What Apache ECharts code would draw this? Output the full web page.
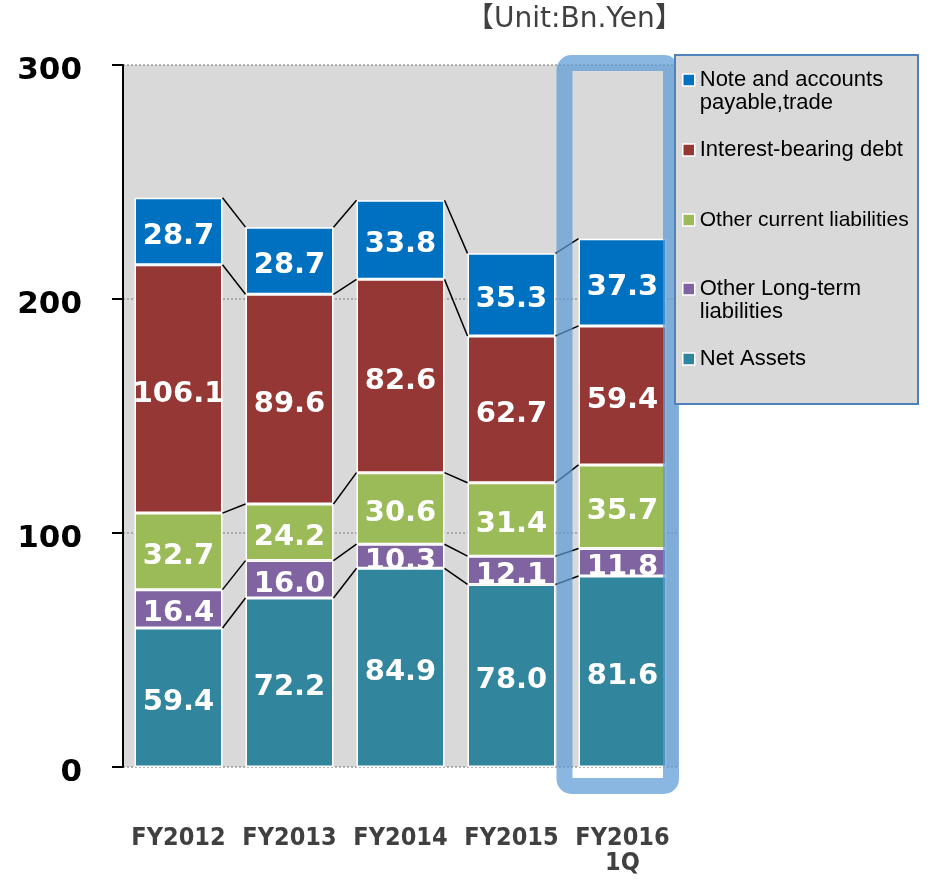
<!DOCTYPE html>
<html>
<head>
<meta charset="utf-8">
<script src="https://cdn.jsdelivr.net/npm/echarts@6/dist/echarts.min.js"></script>
<style>html,body{margin:0;padding:0;background:#fff;}#c{width:932px;height:880px;}</style>
</head>
<body>
<div id="c"></div>
<script>
const categories = ['FY2012', 'FY2013', 'FY2014', 'FY2015', 'FY2016\n1Q'];
const netAssets = [59.4, 72.2, 84.9, 78.0, 81.6];
const otherLongTerm = [16.4, 16.0, 10.3, 12.1, 11.8];
const otherCurrent = [32.7, 24.2, 30.6, 31.4, 35.7];
const interestDebt = [106.1, 89.6, 82.6, 62.7, 59.4];
const notesPayable = [28.7, 28.7, 33.8, 35.3, 37.3];
const seriesNames = ['Net Assets', 'Other Long-term liabilities', 'Other current liabilities', 'Interest-bearing debt', 'Note and accounts payable,trade'];
const seriesColors = ['#31859c', '#8064a2', '#9bbb59', '#953735', '#0070c0'];
const yMin = 0, yMax = 300, yStep = 100;
const unitText = '【Unit:Bn.Yen】';

const stacks = [netAssets, otherLongTerm, otherCurrent, interestDebt, notesPayable];
const BAR_W = 88;

// cumulative tops for connector lines
const connectorData = [];
const cum = categories.map(() => 0);
stacks.forEach(arr => {
  arr.forEach((v, i) => { cum[i] += v; });
  for (let i = 0; i < categories.length - 1; i++) {
    connectorData.push([i, +cum[i].toFixed(1), +cum[i + 1].toFixed(1)]);
  }
});

const boldFont = "'DejaVu Sans', Verdana, sans-serif";
const condFont = "'DejaVu Sans Condensed', 'DejaVu Sans', Verdana, sans-serif";
const barSeries = stacks.map((arr, k) => ({
  name: seriesNames[k],
  type: 'bar',
  stack: 'total',
  barWidth: BAR_W,
  data: arr,
  itemStyle: { color: seriesColors[k], borderColor: '#ffffff', borderWidth: 1.5 },
  label: {
    show: true, position: 'inside', color: '#ffffff', offset: [0, 5],
    fontFamily: boldFont, fontWeight: 'bold', fontSize: 29,
    formatter: p => p.value.toFixed(1)
  },
  emphasis: { disabled: true }
}));

const legendDefs = [
  { name: seriesNames[4], text: '\nNote and accounts\npayable,trade', top: 45.5, size: 22 },
  { name: seriesNames[3], text: 'Interest-bearing debt', top: 138.5, size: 22 },
  { name: seriesNames[2], text: 'Other current liabilities', top: 208.5, size: 21 },
  { name: seriesNames[1], text: '\nOther Long-term\nliabilities', top: 254.5, size: 22 },
  { name: seriesNames[0], text: 'Net Assets', top: 347.5, size: 22 }
];
const legends = legendDefs.map(d => ({
  left: 682, top: d.top, padding: 0, orient: 'vertical', z: 20,
  data: [{ name: d.name, icon: 'rect', itemStyle: { borderColor: '#ffffff', borderWidth: 1.5 } }],
  itemWidth: 12, itemHeight: 12, selectedMode: false,
  formatter: () => d.text,
  textStyle: { fontFamily: "'Liberation Sans', Arial, sans-serif", fontSize: d.size, color: '#000', lineHeight: 23 }
}));

const chart = echarts.init(document.getElementById('c'), null, { renderer: 'canvas' });
chart.setOption({
  animation: false,
  backgroundColor: '#ffffff',
  title: {
    text: unitText, left: 466, top: 6, padding: 0,
    textStyle: { fontFamily: "'DejaVu Sans', 'Noto Sans CJK JP', sans-serif", fontSize: 28, fontWeight: 'normal', color: '#404040' }
  },
  legend: legends,
  grid: { left: 123, right: 254, top: 65, bottom: 113, show: true, backgroundColor: '#d9d9d9', borderWidth: 0, containLabel: false },
  xAxis: {
    type: 'category', data: categories,
    axisLine: { show: false }, axisTick: { show: false },
    axisLabel: {
      interval: 0, margin: 59, verticalAlign: 'top', lineHeight: 25,
      fontFamily: condFont, fontWeight: 'bold', fontSize: 25, color: '#404040'
    }
  },
  yAxis: {
    type: 'value', min: yMin, max: yMax, interval: yStep,
    axisLine: { show: true, lineStyle: { color: '#000', width: 2 } },
    axisTick: { show: true, length: 11, lineStyle: { color: '#000', width: 2 } },
    axisLabel: {
      margin: 41, formatter: '{v|{value}}',
      rich: { v: { fontFamily: boldFont, fontWeight: 'bold', fontSize: 31, color: '#000', lineHeight: 34, padding: [12, 0, 0, 0] } }
    },
    splitLine: { show: true, lineStyle: { color: '#999999', type: [2, 2], width: 1.5 } }
  },
  series: barSeries.concat([{
    type: 'custom',
    name: 'connectors',
    data: connectorData,
    encode: { x: 0, y: [1, 2] },
    silent: true, z: 3,
    renderItem: function (params, api) {
      const i = api.value(0);
      const a = api.coord([i, api.value(1)]);
      const b = api.coord([i + 1, api.value(2)]);
      const half = BAR_W / 2;
      return {
        type: 'line',
        shape: { x1: a[0] + half, y1: a[1], x2: b[0] - half, y2: b[1] },
        style: { stroke: '#000000', lineWidth: 1.5 }
      };
    }
  }]),
  graphic: [
    {
      type: 'rect', z: 10, silent: true,
      shape: { x: 564.5, y: 63, width: 106.5, height: 723, r: 7 },
      style: { fill: null, stroke: 'rgba(91,155,213,0.72)', lineWidth: 16 }
    },
    {
      type: 'rect', z: 11, silent: true,
      shape: { x: 675, y: 55, width: 243, height: 349 },
      style: { fill: '#d9d9d9', stroke: '#4f81bd', lineWidth: 2 }
    }
  ]
});
</script>
</body>
</html>
